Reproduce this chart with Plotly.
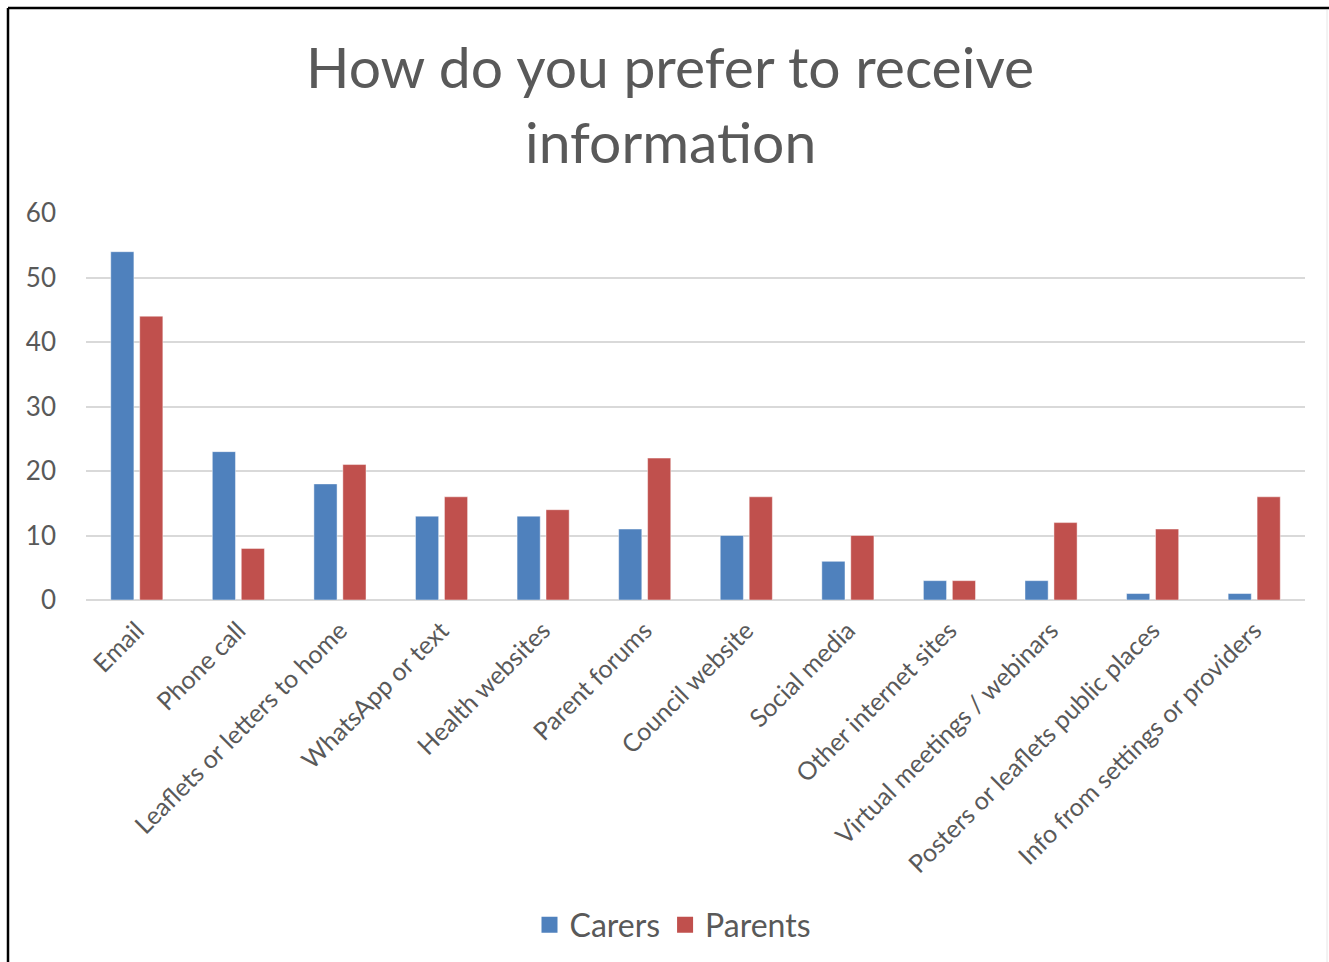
import plotly.graph_objects as go

categories = [
    "Email", "Phone call", "Leaflets or letters to home", "WhatsApp or text",
    "Health websites", "Parent forums", "Council website", "Social media",
    "Other internet sites", "Virtual meetings / webinars",
    "Posters or leaflets public places", "Info from settings or providers",
]
carers = [54, 23, 18, 13, 13, 11, 10, 6, 3, 3, 1, 1]
parents = [44, 8, 21, 16, 14, 22, 16, 10, 3, 12, 11, 16]
y_ticks = [0, 10, 20, 30, 40, 50, 60]
title_lines = ["How do you prefer to receive", "information"]

BLUE = "#4F81BD"
RED = "#C0504D"
TEXT = "#595959"
GRID = "#D9D9D9"
FONT = "Lato"

W, H = 1329, 962
L, R, T, B = 86, 1305, 213, 600  # plot area in pixels


def px_x(x):
    return (x - L) / (R - L)


def px_y(y):
    return (B - y) / (B - T)


fig = go.Figure()
fig.add_trace(go.Bar(
    x=categories, y=carers, name="Carers", showlegend=False,
    marker=dict(color=BLUE, line=dict(color="rgba(255,255,255,0.45)", width=1)),
))
fig.add_trace(go.Bar(
    x=categories, y=parents, name="Parents", showlegend=False,
    marker=dict(color=RED, line=dict(color="rgba(255,255,255,0.45)", width=1)),
))
# legend entries with larger square swatches
for name, col in (("Carers", BLUE), ("Parents", RED)):
    fig.add_trace(go.Scatter(
        x=[None], y=[None], mode="markers", name=name,
        marker=dict(symbol="square", size=20, color=col),
    ))

# two-line chart title
annotations = []
for text, cy in zip(title_lines, (66, 141)):
    annotations.append(dict(
        text=text, xref="paper", yref="paper", x=px_x(670), y=px_y(cy),
        xanchor="center", yanchor="middle", showarrow=False,
        font=dict(family=FONT, size=57, color=TEXT),
    ))

fig.update_layout(
    width=W, height=H,
    margin=dict(l=L, r=W - R, t=T, b=H - B, autoexpand=False),
    paper_bgcolor="white", plot_bgcolor="white",
    font=dict(family=FONT, color=TEXT),
    annotations=annotations,
    barmode="group", bargap=0.43, bargroupgap=0.2,
    xaxis=dict(
        tickangle=-45, tickfont=dict(size=25, color=TEXT),
        showgrid=False, showline=False, ticks="", ticklabelstandoff=10,
    ),
    yaxis=dict(
        range=[0, 60], tickvals=y_ticks, tickfont=dict(size=26, color=TEXT),
        showgrid=True, gridcolor=GRID, gridwidth=2, zeroline=True,
        zerolinecolor=GRID, zerolinewidth=2, showline=False, ticks="",
        ticklabelstandoff=29,
    ),
    legend=dict(
        orientation="h", x=px_x(673), xanchor="center",
        y=px_y(925), yanchor="middle", font=dict(size=32, color=TEXT),
        itemsizing="trace", itemwidth=30, tracegroupgap=20,
    ),
    shapes=[
        # chart frame
        dict(type="line", xref="paper", yref="paper", x0=px_x(8), x1=px_x(W + 5),
             y0=px_y(8), y1=px_y(8), line=dict(color="black", width=2.5)),
        dict(type="line", xref="paper", yref="paper", x0=px_x(8), x1=px_x(8),
             y0=px_y(8), y1=px_y(H + 5), line=dict(color="black", width=2.5)),
        dict(type="line", xref="paper", yref="paper", x0=px_x(1327), x1=px_x(1327),
             y0=px_y(10), y1=px_y(H + 5), line=dict(color="#E6E6E6", width=1)),
    ],
)

fig.write_html("out.html")
